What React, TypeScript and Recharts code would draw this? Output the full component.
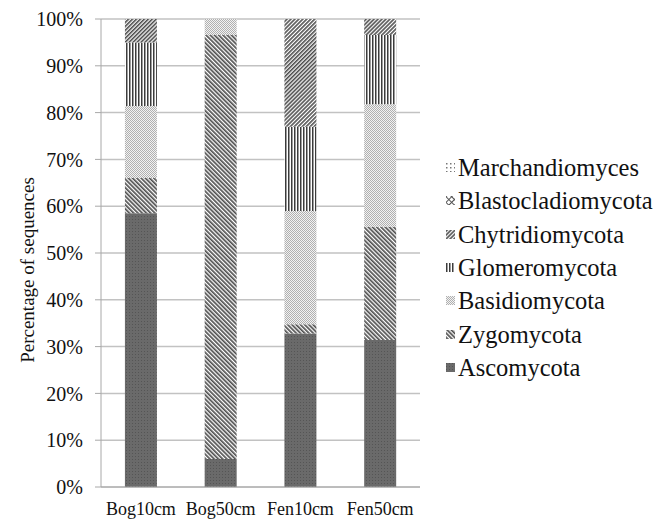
import { BarChart, Bar, XAxis, YAxis, CartesianGrid, Legend } from "recharts";

// Fungal phyla share per sample (% of sequences)
const samples = ["Bog10cm", "Bog50cm", "Fen10cm", "Fen50cm"];
const ascomycota = [58.5, 6, 32.8, 31.4];
const zygomycota = [7.5, 90.6, 2, 24.2];
const basidiomycota = [15.4, 3.4, 24.2, 26.2];
const glomeromycota = [13.6, 0, 18, 14.8];
const chytridiomycota = [5, 0, 23, 3.4];
const blastocladiomycota = [0, 0, 0, 0];
const marchandiomyces = [0, 0, 0, 0];
const yTicks = [0, 10, 20, 30, 40, 50, 60, 70, 80, 90, 100];
const boundaryTicks = [0, 1, 2, 3, 4];

const series = [
  { key: "Ascomycota", values: ascomycota, fill: "url(#p-asco)" },
  { key: "Zygomycota", values: zygomycota, fill: "url(#p-zygo)" },
  { key: "Basidiomycota", values: basidiomycota, fill: "url(#p-basi)" },
  { key: "Glomeromycota", values: glomeromycota, fill: "url(#p-glom)" },
  { key: "Chytridiomycota", values: chytridiomycota, fill: "url(#p-chyt)" },
  { key: "Blastocladiomycota", values: blastocladiomycota, fill: "url(#p-blas)" },
  { key: "Marchandiomyces", values: marchandiomyces, fill: "url(#p-marc)" },
];

const data = samples.map((name, i) => {
  const row: Record<string, string | number> = { name };
  series.forEach((s) => (row[s.key] = s.values[i]));
  return row;
});

const font = "Liberation Serif";

function LegendList() {
  const items = [...series].reverse();
  return (
    <div style={{ fontFamily: font, fontSize: 24.5, color: "#111" }}>
      {items.map((s) => (
        <div
          key={s.key}
          style={{ display: "flex", alignItems: "center", height: 33.3, whiteSpace: "nowrap" }}
        >
          <svg width={9} height={9} style={{ marginRight: 3, flex: "none" }}>
            <rect width={9} height={9} fill={s.fill} />
          </svg>
          <span style={{ fontFamily: font, lineHeight: "33px" }}>{s.key}</span>
        </div>
      ))}
    </div>
  );
}

export default function App() {
  return (
    <div style={{ position: "absolute", left: 0, top: 0, fontFamily: font }}>
      <BarChart
        width={655}
        height={521}
        data={data}
        margin={{ top: 19, right: 26, left: 0, bottom: 0 }}
        barCategoryGap="30%"
      >
        <defs>
          <pattern id="p-asco" width={3} height={3} patternUnits="userSpaceOnUse">
            <rect width={3} height={3} fill="#6a6a6a" />
            <rect width={1} height={1} fill="#555" />
          </pattern>
          <pattern id="p-zygo" width={3} height={3} patternUnits="userSpaceOnUse" patternTransform="rotate(-45)">
            <rect width={3} height={3} fill="#ffffff" />
            <rect width={1.7} height={3} fill="#4f4f4f" />
          </pattern>
          <pattern id="p-basi" width={2} height={2} patternUnits="userSpaceOnUse">
            <rect width={2} height={2} fill="#f2f2f2" />
            <rect width={1} height={1} fill="#b0b0b0" />
            <rect x={1} y={1} width={1} height={1} fill="#b0b0b0" />
          </pattern>
          <pattern id="p-glom" width={3} height={3} patternUnits="userSpaceOnUse">
            <rect width={3} height={3} fill="#ffffff" />
            <rect width={1.5} height={3} fill="#3c3c3c" />
          </pattern>
          <pattern id="p-chyt" width={2.8} height={2.8} patternUnits="userSpaceOnUse" patternTransform="rotate(45)">
            <rect width={2.8} height={2.8} fill="#ffffff" />
            <rect width={1.6} height={2.8} fill="#505050" />
          </pattern>
          <pattern id="p-blas" width={4} height={4} patternUnits="userSpaceOnUse" patternTransform="rotate(45)">
            <rect width={4} height={4} fill="#ffffff" />
            <rect width={1} height={4} fill="#555" />
            <rect width={4} height={1} fill="#555" />
          </pattern>
          <pattern id="p-marc" width={4} height={4} patternUnits="userSpaceOnUse">
            <rect width={4} height={4} fill="#ffffff" />
            <rect width={1.5} height={1.5} fill="#777" />
          </pattern>
        </defs>
        <CartesianGrid vertical={false} stroke="#c2c2c2" strokeWidth={1.5} />
        <XAxis
          xAxisId="bounds"
          type="number"
          domain={[0, 4]}
          ticks={boundaryTicks}
          tick={false}
          height={0}
          axisLine={false}
          tickLine={{ stroke: "#a8a8a8" }}
          tickSize={6}
        />
        <XAxis
          dataKey="name"
          height={34}
          tickLine={false}
          axisLine={{ stroke: "#a8a8a8" }}
          tickMargin={9}
          tick={{ fontFamily: font, fontSize: 18, fill: "#111" }}
        />
        <YAxis
          width={101}
          domain={[0, 100]}
          ticks={yTicks}
          tickFormatter={(v) => `${v}%`}
          interval={0}
          tickSize={6}
          tickMargin={12}
          axisLine={{ stroke: "#a8a8a8" }}
          tickLine={{ stroke: "#a8a8a8" }}
          tick={{ fontFamily: font, fontSize: 20, fill: "#111" }}
          label={{
            value: "Percentage of sequences",
            angle: -90,
            position: "insideLeft",
            offset: 27,
            dy: 17,
            style: { textAnchor: "middle", fontFamily: font, fontSize: 19, fill: "#111" },
          }}
        />
        <Legend
          layout="vertical"
          align="right"
          verticalAlign="middle"
          content={() => <LegendList />}
          wrapperStyle={{ left: 446, top: 151, width: 209 }}
        />
        {series.map((s) => (
          <Bar key={s.key} dataKey={s.key} stackId="a" fill={s.fill} isAnimationActive={false} />
        ))}
      </BarChart>
    </div>
  );
}
